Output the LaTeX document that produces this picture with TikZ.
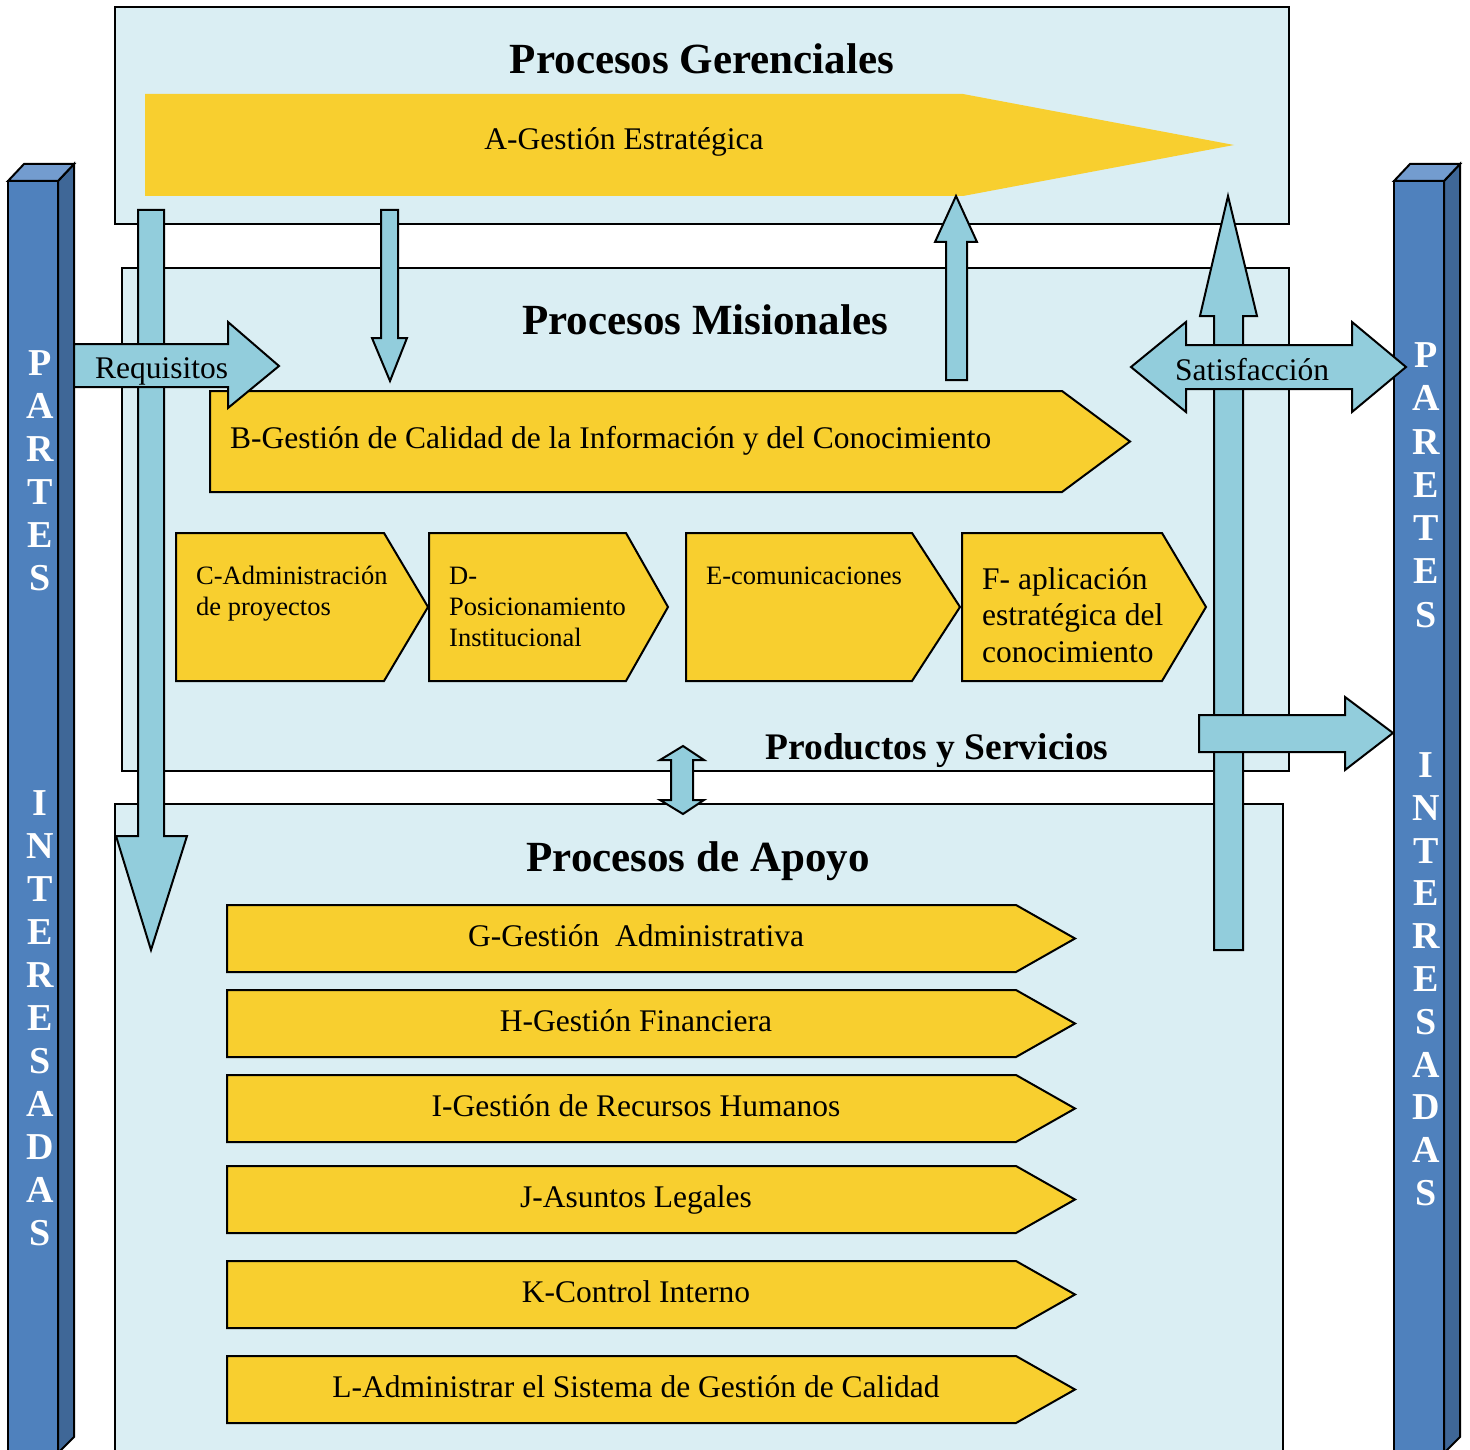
\documentclass[tikz,border=0pt]{standalone}
\usepackage{fontspec}
\setmainfont{Liberation Serif}
\usetikzlibrary{positioning}

\definecolor{boxblue}{HTML}{DAEEF3}
\definecolor{arrowblue}{HTML}{92CDDC}
\definecolor{procyellow}{HTML}{F8CF2F}
\definecolor{pillarfront}{HTML}{4F81BD}
\definecolor{pillarside}{HTML}{3F6797}
\definecolor{pillartop}{HTML}{739CCF}

\tikzset{
  area/.style={draw, fill=boxblue, line width=2pt},
  proc/.style={draw, fill=procyellow, line width=2pt},
  blockarrow/.style={draw, fill=arrowblue, line width=2pt, line join=miter},
  heading/.style={font=\fontsize{43}{48}\selectfont\bfseries, inner sep=0, anchor=base},
  txt/.style={font=\fontsize{31.5}{36}\selectfont, inner sep=0, anchor=base},
  smalltxt/.style={font=\fontsize{26.5}{31}\selectfont, inner sep=0, anchor=base west, align=left},
  pillarletter/.style={font=\fontsize{38}{40}\selectfont\bfseries, text=white, inner sep=0}
}

% chevron: left x, top y, body end x, tip x, bottom y
\newcommand{\chevron}[5]{\draw[proc] (#1,#2) -- (#3,#2) -- (#4,{(#2+#5)/2}) -- (#3,#5) -- (#1,#5) -- cycle;}

\begin{document}
\begin{tikzpicture}[x=1pt, y=-1pt]
\useasboundingbox (0,0) rectangle (1470,1450);

% areas
\draw[area] (115,7) rectangle (1289,224);
\draw[area] (122,268) rectangle (1289,771);
\draw[area] (115,804) rectangle (1283,1480);

% pillars
\filldraw[fill=pillarfront, line width=2pt] (8,181) rectangle (58,1470);
\filldraw[fill=pillarside, line width=2pt] (58,181) -- (74,164) -- (74,1437) -- (58,1453) -- cycle;
\filldraw[fill=pillartop, line width=2pt] (8,181) -- (24,164) -- (74,164) -- (58,181) -- cycle;
\filldraw[fill=pillarfront, line width=2pt] (1394,181) rectangle (1444,1470);
\filldraw[fill=pillarside, line width=2pt] (1444,181) -- (1460,164) -- (1460,1437) -- (1444,1453) -- cycle;
\filldraw[fill=pillartop, line width=2pt] (1394,181) -- (1410,164) -- (1460,164) -- (1444,181) -- cycle;

\foreach \l [count=\i] in {P,A,R,T,E,S}
  \node[pillarletter] (lp\i) at (40,{363+43*(\i-1)}) {\l};
\foreach \l [count=\i] in {I,N,T,E,R,E,S,A,D,A,S}
  \node[pillarletter] (li\i) at (40,{803+43*(\i-1)}) {\l};
\foreach \l [count=\i] in {P,A,R,E,T,E,S}
  \node[pillarletter] (rp\i) at (1426,{355+43.3*(\i-1)}) {\l};
\foreach \l [count=\i] in {I,N,T,E,R,E,S,A,D,A,S}
  \node[pillarletter] (ri\i) at (1426,{765+42.8*(\i-1)}) {\l};

% titles
\node[heading] (gertitle) at (702,74) {Procesos Gerenciales};
\node[heading] (mistitle) at (705,334) {Procesos Misionales};
\node[heading] (apotitle) at (698,871) {Procesos de Apoyo};

% gerenciales
\fill[procyellow] (145,94) -- (963,94) -- (1234,145) -- (963,196) -- (145,196) -- cycle;
\node[txt] (procA) at (624,150) {A-Gestión Estratégica};

% misionales
\chevron{210}{391}{1062}{1130}{492}
\node[txt, anchor=base west] (procB) at (230,448) {B-Gestión de Calidad de la Información y del Conocimiento};
\chevron{176}{533}{384}{428}{681}
\chevron{429}{533}{626}{668}{681}
\chevron{686}{533}{912}{960}{681}
\chevron{962}{533}{1162}{1206}{681}
\node[smalltxt] (procC) at (196,615) {C-Administración\\de proyectos};
\node[smalltxt] (procD) at (449,646) {D-\\Posicionamiento\\Institucional};
\node[smalltxt] (procE) at (706,584) {E-comunicaciones};
\node[txt, anchor=base west, align=left, font=\fontsize{31.5}{36.5}\selectfont] (procF) at (982,662) {F- aplicación\\estratégica del\\conocimiento};
\node[font=\fontsize{37.5}{42}\selectfont\bfseries, inner sep=0, anchor=base] (prodserv) at (937,759) {Productos y Servicios};

% apoyo
\foreach \yc/\txt [count=\i] in {938.5/{G-Gestión~ Administrativa}, 1023.5/{H-Gestión Financiera},
    1108.5/{I-Gestión de Recursos Humanos}, 1199.5/{J-Asuntos Legales},
    1294.5/{K-Control Interno}, 1389.5/{L-Administrar el Sistema de Gestión de Calidad}} {
  \chevron{227}{\yc-33.5}{1016}{1075}{\yc+33.5}
  \node[txt] (apoyo\i) at (636,\yc+8) {\txt};
}

% block arrows
\draw[blockarrow] (138,210) -- (164,210) -- (164,836) -- (187,836) -- (151,950) -- (116,836) -- (138,836) -- cycle;
\draw[blockarrow] (381,210) -- (398,210) -- (398,338) -- (407,338) -- (390,381) -- (372,338) -- (381,338) -- cycle;
\draw[blockarrow] (946,380) -- (946,242) -- (935,242) -- (956,196) -- (977,242) -- (967,242) -- (967,380) -- cycle;
\draw[blockarrow] (1214,950) -- (1214,316) -- (1200,316) -- (1228,196) -- (1257,316) -- (1243,316) -- (1243,950) -- cycle;
\draw[blockarrow] (74,344) -- (228,344) -- (228,322) -- (279,366) -- (228,408) -- (228,387) -- (74,387) -- cycle;
\draw[blockarrow] (1131,367) -- (1186,322) -- (1186,345) -- (1352,345) -- (1352,322) -- (1406,367)
  -- (1352,412) -- (1352,389) -- (1186,389) -- (1186,412) -- cycle;
\draw[blockarrow] (1199,715) -- (1345,715) -- (1345,697) -- (1393,733) -- (1345,770) -- (1345,752) -- (1199,752) -- cycle;
\draw[blockarrow] (683,746) -- (704,760) -- (693,760) -- (693,800) -- (704,800) -- (683,814)
  -- (660,800) -- (671,800) -- (671,760) -- (660,760) -- cycle;

\node[txt, anchor=base west] (req) at (95,378) {Requisitos};
\node[txt, anchor=base west] (satis) at (1175,380) {Satisfacción};

\end{tikzpicture}
\end{document}
